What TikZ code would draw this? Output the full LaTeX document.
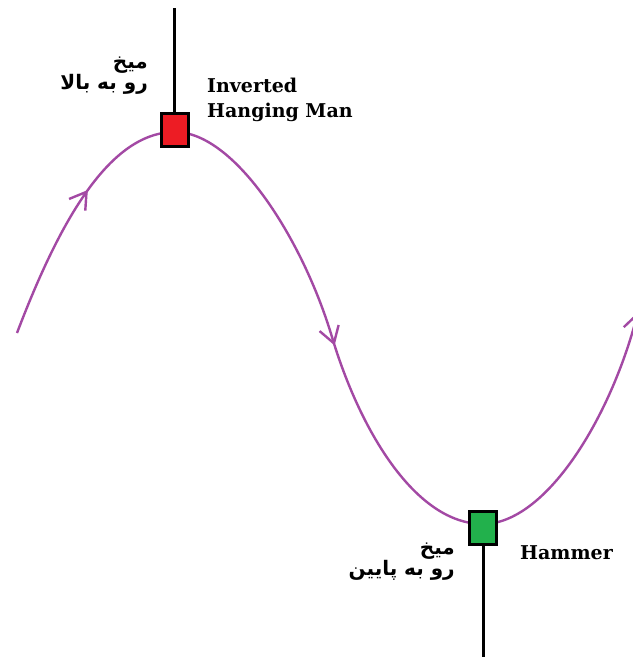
\documentclass[tikz,border=0pt]{standalone}
\usepackage{fontspec}
\usetikzlibrary{arrows.meta,decorations.markings}
\TeXXeTstate=1
\newfontfamily\arabicfont[Script=Arabic]{DejaVu Sans}
\newfontfamily\patternfont{DejaVu Serif}
\definecolor{trendpurple}{RGB}{163,73,164}
\definecolor{candlered}{RGB}{237,28,36}
\definecolor{candlegreen}{RGB}{34,177,76}
\tikzset{
  barb/.tip={Straight Barb[length=16pt,width=20pt]},
  trend/.style={draw=trendpurple,line width=2.4pt,-barb},
  candle/.style={draw=black,line width=3pt,minimum width=27pt,minimum height=33pt,inner sep=0pt},
  wick/.style={line width=3pt},
  pattern/.style={font=\patternfont\bfseries\fontsize{19}{25}\selectfont,inner sep=0pt,align=left},
  farsi/.style={font=\arabicfont\bfseries\fontsize{20}{19}\selectfont,inner sep=0pt,align=right}
}
\begin{document}
\begin{tikzpicture}[x=1pt,y=-1pt]
\fill[white] (0,0) rectangle (632,660);
\useasboundingbox (0,0) rectangle (632,660);
% price path
\draw[trend,postaction={decorate},
  decoration={markings,mark=at position 160pt with {\arrow{barb}},mark=at position 548pt with {\arrow{barb}}}]
  (17,333) .. controls (60,220) and (110,132) .. (175,132)
  .. controls (235,132) and (303,240) .. (332,337)
  .. controls (359.5,429) and (415,524) .. (483,524)
  .. controls (545,524) and (610,420) .. (638,312);
% candles
\node[candle,fill=candlered] (invbox) at (174.5,130.5) {};
\node[candle,fill=candlegreen] (hambox) at (483,527.5) {};
\coordinate (invtip) at (174.5,8);
\coordinate (hamtip) at (483,657);
\draw[wick] (invbox.north)--(invtip);
\draw[wick] (hambox.south)--(hamtip);
% labels
\node[pattern,anchor=west] (invlabel) at (207,99.5) {Inverted\\Hanging Man};
\node[pattern,anchor=west] (hamlabel) at (520,553) {Hammer};
\node[farsi,anchor=east] (uplabel) at (148,76) {\beginR میخ\endR\\\beginR رو به بالا\endR};
\node[farsi,anchor=east] (downlabel) at (455,561.5) {\beginR میخ\endR\\\beginR رو به پایین\endR};
\end{tikzpicture}
\end{document}
